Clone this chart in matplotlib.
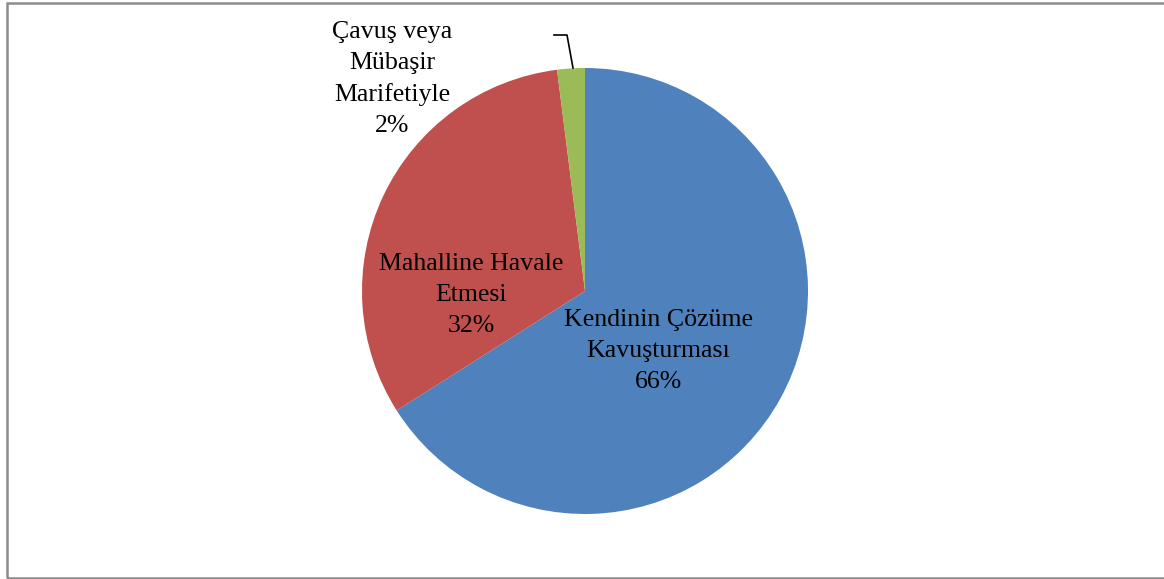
import matplotlib.pyplot as plt
from matplotlib.patches import Rectangle

labels = ["Kendinin Çözüme\nKavuşturması", "Mahalline Havale\nEtmesi", "Çavuş veya\nMübaşir\nMarifetiyle"]
values = [66, 32, 2]
colors = ["#4F81BD", "#C0504D", "#9BBB59"]

W, H = 1164, 579
cx, cy, r = 585, 291, 223

fig = plt.figure(figsize=(W / 100, H / 100), dpi=100)
fig.patches.append(Rectangle((7 / W, 1.5 / H), (W + 5) / W, (H - 4) / H, transform=fig.transFigure,
                             fill=False, edgecolor="#8c8c8c", linewidth=1.8))

ax = fig.add_axes([(cx - r) / W, (H - cy - r) / H, 2 * r / W, 2 * r / H])
ax.pie(values, colors=colors, startangle=90, counterclock=False, radius=1,
       wedgeprops=dict(linewidth=0))
ax.set_xlim(-1, 1)
ax.set_ylim(-1, 1)
ax.axis("off")

font = dict(family="Liberation Serif", fontsize=18.6, ha="center", va="center", linespacing=1.52)

def px(x, y):
    return (x - cx) / r, (cy - y) / r

ax.text(*px(658, 351), f"{labels[0]}\n{values[0]}%", **font)
ax.text(*px(471, 295), f"{labels[1]}\n{values[1]}%", **font)
ax.text(*px(392, 79), f"{labels[2]}\n{values[2]}%", clip_on=False, **font)

# leader line for the small slice
lx = [px(554, 35)[0], px(567, 35)[0], px(573, 68)[0]]
ly = [px(554, 35)[1], px(567, 35)[1], px(573, 68)[1]]
ax.plot(lx, ly, color="black", linewidth=1.2, clip_on=False)

fig.savefig("out.png", dpi=100)
